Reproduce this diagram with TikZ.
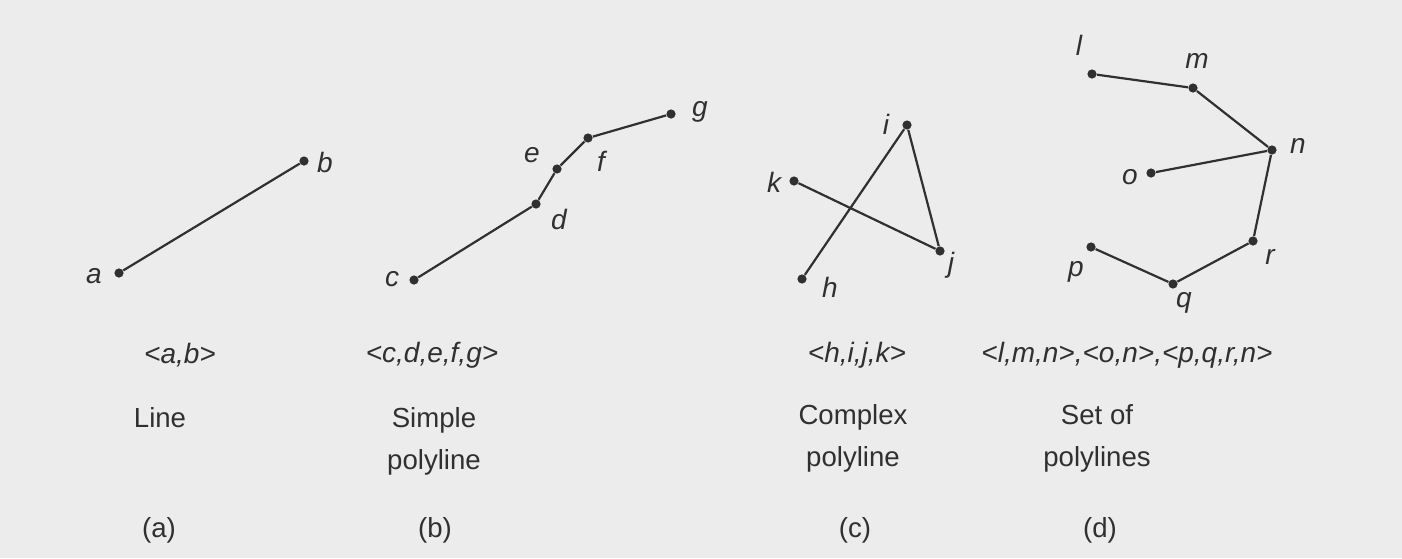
\documentclass[tikz,border=0pt]{standalone}
\usepackage{fontspec}
\setmainfont{Liberation Sans}
\definecolor{paper}{HTML}{ECECEC}
\definecolor{ink}{HTML}{303030}
\begin{document}
\begin{tikzpicture}[x=0.5pt,y=-0.5pt,
  vtx/.style={circle,fill=ink,inner sep=0pt,minimum size=4.6pt},
  lbl/.style={text=ink,font=\fontsize{14}{17}\selectfont\itshape,inner sep=0pt},
  captxt/.style={text=ink,font=\fontsize{13.8}{21}\selectfont,align=center,inner sep=0pt},
  seg/.style={draw=ink,line width=1.1pt}]
\fill[paper] (0,0) rectangle (1402,558);
% (a) line
\node[vtx] (a) at (119,273) {};
\node[vtx] (b) at (304,161) {};
\node[lbl] (la) at (94,276) {a};
\node[lbl] (lb) at (325,162) {b};
\draw[seg] (a) -- (b);
% (b) simple polyline
\node[vtx] (c) at (414,280) {};
\node[vtx] (d) at (536,204) {};
\node[vtx] (e) at (557,169) {};
\node[vtx] (f) at (588,138) {};
\node[vtx] (g) at (671,114) {};
\node[lbl] (lc) at (392,279) {c};
\node[lbl] (ld) at (559,219) {d};
\node[lbl] (le) at (532,155) {e};
\node[lbl] (lf) at (601,161) {f};
\node[lbl] (lg) at (700,112) {g};
\draw[seg] (c) -- (d) -- (e) -- (f) -- (g);
% (c) complex polyline
\node[vtx] (h) at (802,279) {};
\node[vtx] (i) at (907,125) {};
\node[vtx] (j) at (940,251) {};
\node[vtx] (k) at (794,181) {};
\node[lbl] (lh) at (830,287) {h};
\node[lbl] (li) at (886,124) {i};
\node[lbl] (lj) at (951,265) {j};
\node[lbl] (lk) at (774,182) {k};
\draw[seg] (h) -- (i) -- (j) -- (k);
% (d) set of polylines
\node[vtx] (l) at (1092,74) {};
\node[vtx] (m) at (1193,88) {};
\node[vtx] (n) at (1272,150) {};
\node[vtx] (o) at (1151,173) {};
\node[vtx] (p) at (1091,247) {};
\node[vtx] (q) at (1173,284) {};
\node[vtx] (r) at (1253,241) {};
\node[lbl] (ll) at (1079,45) {l};
\node[lbl] (lm) at (1197,61) {m};
\node[lbl] (ln) at (1298,146) {n};
\node[lbl] (lo) at (1130,177) {o};
\node[lbl] (lp) at (1076,272) {p};
\node[lbl] (lq) at (1184,303) {q};
\node[lbl] (lr) at (1270,257) {r};
\draw[seg] (l) -- (m) -- (n);
\draw[seg] (o) -- (n);
\draw[seg] (p) -- (q) -- (r) -- (n);
% captions
\node[lbl] (sa) at (180,355) {<a,b>};
\node[lbl] (sb) at (432,355) {<c,d,e,f,g>};
\node[lbl] (sc) at (857,355) {<h,i,j,k>};
\node[lbl] (sd) at (1127,355) {<l,m,n>,<o,n>,<p,q,r,n>};
\node[captxt] (ta) at (160,418) {Line};
\node[captxt] (tb) at (434,441) {Simple\\polyline};
\node[captxt] (tc) at (853,438) {Complex\\polyline};
\node[captxt] (td) at (1097,438) {Set of\\polylines};
\node[captxt] (ua) at (159,530) {(a)};
\node[captxt] (ub) at (435,530) {(b)};
\node[captxt] (uc) at (855,530) {(c)};
\node[captxt] (ud) at (1100,530) {(d)};
\end{tikzpicture}
\end{document}
